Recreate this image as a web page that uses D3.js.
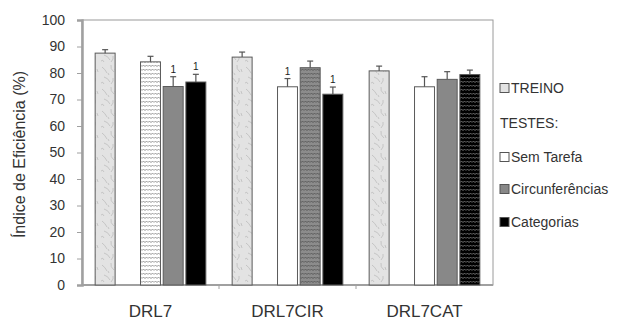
<!DOCTYPE html>
<html>
<head>
<meta charset="utf-8">
<script src="https://cdn.jsdelivr.net/npm/d3@7"></script>
<style>
  body { margin: 0; background: #fff; }
  svg { font-family: "Liberation Sans", Arial, sans-serif; }
</style>
</head>
<body>
<div id="chart"></div>
<script>
const groups = ["DRL7", "DRL7CIR", "DRL7CAT"];
const slots = ["TREINO", "gap", "Sem Tarefa", "Circunferências", "Categorias"];
const testSeries = ["Sem Tarefa", "Circunferências", "Categorias"];

// mean efficiency index (%) per group
const treino = [87.5, 86.0, 80.8];
const semTarefa = [84.2, 74.8, 74.8];
const circunferencias = [74.9, 82.0, 77.6];
const categorias = [76.6, 72.0, 79.4];

// upper error bar length
const treinoErr = [1.3, 1.9, 1.8];
const semTarefaErr = [2.1, 3.1, 3.8];
const circunferenciasErr = [3.7, 2.5, 2.9];
const categoriasErr = [2.9, 2.7, 1.7];

// "1" significance marks
const signif = [
  ["Circunferências", "Categorias"],
  ["Sem Tarefa", "Categorias"],
  [],
];
// test matching the trained condition (drawn with zigzag)
const trainedTest = ["Sem Tarefa", "Circunferências", "Categorias"];

const yTicks = d3.range(0, 101, 10);
const legendItems = ["TREINO", "TESTES:", "Sem Tarefa", "Circunferências", "Categorias"];

const W = 630, H = 320;
const margin = { top: 20, right: 137, bottom: 35, left: 82 };
const width = W - margin.left - margin.right;
const height = H - margin.top - margin.bottom;

const svg = d3.select("#chart").append("svg")
  .attr("width", W).attr("height", H);

const defs = svg.append("defs");

// light mottled texture for TREINO
const tex = defs.append("pattern").attr("id", "treino")
  .attr("patternUnits", "userSpaceOnUse").attr("width", 18).attr("height", 22);
tex.append("rect").attr("width", 18).attr("height", 22).attr("fill", "#e3e3e3");
tex.append("path")
  .attr("d", "M2,3 q3,2 5,6 M11,1 q-1,4 3,7 M4,13 q4,1 6,5 M13,14 q1,3 -2,6 M8,9 l1,2 M1,19 q2,-2 3,1 M15,5 l1,3")
  .attr("fill", "none").attr("stroke", "#bcbcbc").attr("stroke-width", 0.8);

function zigzag(id, bg, fg) {
  const p = defs.append("pattern").attr("id", id)
    .attr("patternUnits", "userSpaceOnUse").attr("width", 6).attr("height", 4);
  p.append("rect").attr("width", 6).attr("height", 4).attr("fill", bg);
  p.append("path").attr("d", "M0,2.6 L1.5,1 L3,2.6 L4.5,1 L6,2.6")
    .attr("fill", "none").attr("stroke", fg).attr("stroke-width", 0.9);
}
zigzag("zz-white", "#ffffff", "#8a8a8a");
zigzag("zz-grey", "#8c8c8c", "#555555");
zigzag("zz-black", "#000000", "#7a7a7a");

const solidFill = { "Sem Tarefa": "#ffffff", "Circunferências": "#888888", "Categorias": "#000000" };
const zzFill = { "Sem Tarefa": "url(#zz-white)", "Circunferências": "url(#zz-grey)", "Categorias": "url(#zz-black)" };

const g = svg.append("g").attr("transform", `translate(${margin.left},${margin.top})`);

const x0 = d3.scaleBand().domain(groups).range([0, width]).padding(0);
const x1 = d3.scaleBand().domain(slots).range([0, x0.bandwidth()])
  .paddingInner(0.12).paddingOuter(0.58);
const y = d3.scaleLinear().domain([0, 100]).range([height, 0]);

// plot frame
g.append("rect").attr("width", width).attr("height", height)
  .attr("fill", "none").attr("stroke", "#9a9a9a").attr("stroke-width", 1);

// y axis
const yAxis = g.append("g")
  .call(d3.axisLeft(y).tickValues(yTicks).tickSize(5).tickPadding(12));
yAxis.select(".domain").attr("stroke", "#a0a0a0").attr("stroke-width", 2.5);
yAxis.selectAll(".tick line").attr("stroke", "#a0a0a0");
yAxis.selectAll(".tick text").attr("font-size", 14).attr("fill", "#333");

// x axis: ticks at group boundaries
const xAxis = g.append("g").attr("transform", `translate(0,${height})`);
xAxis.append("line").attr("x1", 0).attr("x2", width)
  .attr("stroke", "#a0a0a0").attr("stroke-width", 2);
xAxis.selectAll(".sep").data(groups.slice(1)).enter().append("line")
  .attr("x1", d => x0(d)).attr("x2", d => x0(d))
  .attr("y1", 0).attr("y2", 4).attr("stroke", "#a0a0a0");
xAxis.selectAll(".lbl").data(groups).enter().append("text")
  .attr("x", d => x0(d) + x0.bandwidth() / 2).attr("y", 32)
  .attr("text-anchor", "middle").attr("font-size", 17).attr("fill", "#333")
  .text(d => d);

// bar records
const bars = [];
groups.forEach((grp, i) => {
  bars.push({ grp, s: "TREINO", v: treino[i], e: treinoErr[i], fill: "url(#treino)", sig: false });
  const vals = [semTarefa[i], circunferencias[i], categorias[i]];
  const errs = [semTarefaErr[i], circunferenciasErr[i], categoriasErr[i]];
  testSeries.forEach((s, j) => {
    bars.push({
      grp, s, v: vals[j], e: errs[j],
      fill: trainedTest[i] === s ? zzFill[s] : solidFill[s],
      sig: signif[i].includes(s),
    });
  });
});

const bx = d => x0(d.grp) + x1(d.s);

g.selectAll(".bar").data(bars).enter().append("rect")
  .attr("x", bx).attr("y", d => y(d.v))
  .attr("width", x1.bandwidth()).attr("height", d => height - y(d.v))
  .attr("fill", d => d.fill).attr("stroke", "#5a5a5a").attr("stroke-width", 1);

// error bars (upper only)
const eb = g.selectAll(".err").data(bars).enter().append("g");
eb.append("line")
  .attr("x1", d => bx(d) + x1.bandwidth() / 2).attr("x2", d => bx(d) + x1.bandwidth() / 2)
  .attr("y1", d => y(d.v)).attr("y2", d => y(d.v + d.e))
  .attr("stroke", "#555").attr("stroke-width", 1.2);
eb.append("line")
  .attr("x1", d => bx(d) + x1.bandwidth() / 2 - 3).attr("x2", d => bx(d) + x1.bandwidth() / 2 + 3)
  .attr("y1", d => y(d.v + d.e)).attr("y2", d => y(d.v + d.e))
  .attr("stroke", "#555").attr("stroke-width", 1.2);

g.selectAll(".sig").data(bars.filter(d => d.sig)).enter().append("text")
  .attr("x", d => bx(d) + x1.bandwidth() / 2).attr("y", d => y(d.v + d.e) - 4)
  .attr("text-anchor", "middle").attr("font-size", 10)
  .attr("fill", "#222").text("1");

// y title
svg.append("text")
  .attr("transform", `translate(25,${margin.top + height / 2 + 2}) rotate(-90)`)
  .attr("text-anchor", "middle").attr("font-size", 16).attr("fill", "#333")
  .text("Índice de Eficiência (%)");

// legend
const legY = [88, 123, 157, 189, 222];
const legFill = { "TREINO": "#e3e3e3", "Sem Tarefa": "#ffffff", "Circunferências": "#888888", "Categorias": "#000000" };
const leg = svg.append("g").attr("transform", "translate(500,0)");
legendItems.forEach((name, i) => {
  const row = leg.append("g").attr("transform", `translate(0,${legY[i]})`);
  if (name !== "TESTES:") {
    row.append("rect").attr("x", 0).attr("y", -4.5).attr("width", 9).attr("height", 9)
      .attr("fill", legFill[name]).attr("stroke", "#555").attr("stroke-width", 1);
  }
  row.append("text").attr("x", name === "TESTES:" ? 0 : 11).attr("y", 5)
    .attr("font-size", 14).attr("fill", "#333").text(name);
});
</script>
</body>
</html>
